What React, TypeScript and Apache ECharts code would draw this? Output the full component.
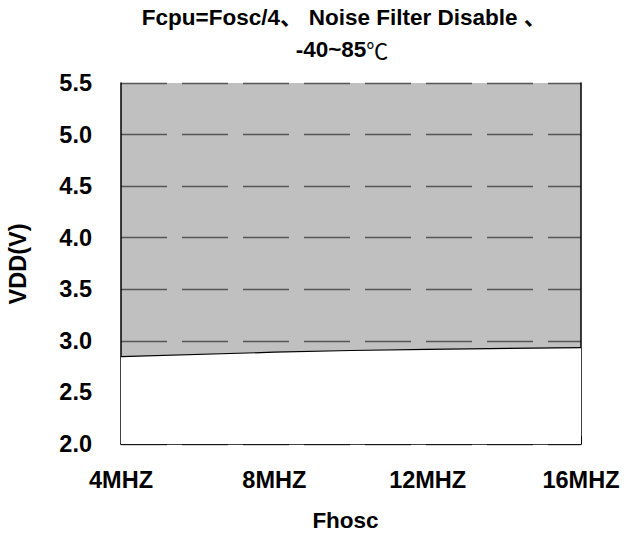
import React, { useEffect, useRef } from "react";
import * as echarts from "echarts";

const categories = ["4MHZ", "8MHZ", "12MHZ", "16MHZ"];
const vddMin = [2.847, 2.89, 2.918, 2.934];
const yMin = 2.0;
const yMax = 5.5;
const yStep = 0.5;
const titleLine1 = "Fcpu=Fosc/4\u3001 Noise Filter Disable \u3001";
const titleLine2Main = "-40~85";
const titleLine2Unit = "\u2103";
const xName = "Fhosc";
const yName = "VDD(V)";

const FONT = "'Liberation Sans', Arial, 'Noto Sans CJK SC', sans-serif";

export default function App() {
  const ref = useRef<HTMLDivElement>(null);
  useEffect(() => {
    if (!ref.current) return;
    const chart = echarts.init(ref.current, null, { renderer: "svg" });
    chart.setOption({
      animation: false,
      backgroundColor: "#ffffff",
      grid: {
        left: 121,
        right: 43,
        top: 83,
        bottom: 91,
        show: true,
        backgroundColor: "#c0c0c0",
        borderWidth: 0,
      },
      graphic: [
        {
          type: "text",
          x: 344,
          y: 17,
          style: {
            text: titleLine1,
            font: `bold 22.5px ${FONT}`,
            fill: "#000",
            textAlign: "center",
            textVerticalAlign: "middle",
          },
        },
        {
          type: "text",
          x: 342,
          y: 49,
          style: {
            text: `{m|${titleLine2Main}}{u|${titleLine2Unit}}`,
            textAlign: "center",
            textVerticalAlign: "middle",
            rich: {
              m: {
                fontFamily: FONT,
                fontWeight: "bold",
                fontSize: 22.5,
                fill: "#000",
                color: "#000",
              },
              u: {
                fontFamily: "'Noto Sans CJK SC', sans-serif",
                fontWeight: "normal",
                fontSize: 22,
                fill: "#000",
                color: "#000",
              },
            },
          },
        },
        {
          type: "text",
          x: 345.5,
          y: 520,
          style: {
            text: xName,
            font: `bold 22.5px ${FONT}`,
            fill: "#000",
            textAlign: "center",
            textVerticalAlign: "middle",
          },
        },
        {
          type: "text",
          x: 17.5,
          y: 264,
          rotation: Math.PI / 2,
          style: {
            text: yName,
            font: `bold 23.5px ${FONT}`,
            fill: "#000",
            textAlign: "center",
            textVerticalAlign: "middle",
          },
        },
      ],
      xAxis: {
        type: "category",
        data: categories,
        boundaryGap: false,
        axisLine: { show: true, lineStyle: { color: "#000", width: 1.5 } },
        axisTick: { show: true, inside: true, length: 8, lineStyle: { color: "#000", width: 1 } },
        axisLabel: {
          show: true,
          margin: 24,
          color: "#000",
          fontSize: 23.5,
          fontWeight: "bold",
          fontFamily: FONT,
        },
        splitLine: { show: false },
      },
      yAxis: [
        {
          type: "value",
          min: yMin,
          max: yMax,
          interval: yStep,
          axisLine: { show: true, lineStyle: { color: "#000", width: 1.5 } },
          axisTick: { show: false },
          axisLabel: {
            margin: 29,
            color: "#000",
            fontSize: 23.5,
            fontWeight: "bold",
            fontFamily: FONT,
            formatter: (v: number) => v.toFixed(1),
          },
          splitLine: {
            show: true,
            lineStyle: { color: "#555", width: 1.3, type: [46, 15] },
          },
        },
        {
          type: "value",
          position: "right",
          min: yMin,
          max: yMax,
          interval: yStep,
          axisLine: { show: true, lineStyle: { color: "#000", width: 1.5 } },
          axisTick: { show: false },
          axisLabel: { show: false },
          splitLine: { show: false },
        },
      ],
      series: [
        {
          type: "line",
          data: vddMin,
          smooth: true,
          symbol: "none",
          z: 3,
          lineStyle: { color: "#000", width: 1.2 },
          areaStyle: { color: "#ffffff", opacity: 1, origin: "start" },
        },
      ],
    });
    return () => chart.dispose();
  }, []);
  return (
    <div
      ref={ref}
      style={{ position: "fixed", left: 0, top: 0, width: 624, height: 535 }}
    />
  );
}
